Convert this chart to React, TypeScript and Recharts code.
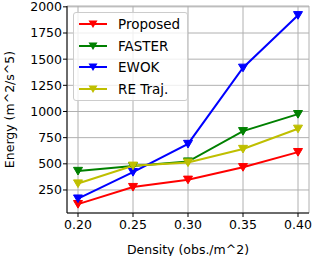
import { LineChart, Line, XAxis, YAxis, CartesianGrid } from "recharts";

const density = [0.2, 0.25, 0.3, 0.35, 0.4];
const proposed = [115, 278, 348, 468, 612];
const faster = [432, 478, 522, 812, 975];
const ewok = [168, 421, 690, 1418, 1920];
const reTraj = [312, 482, 512, 642, 835];

const xTicks = [0.2, 0.25, 0.3, 0.35, 0.4];
const yTicks = [250, 500, 750, 1000, 1250, 1500, 1750, 2000];

const series = [
  { key: "proposed", name: "Proposed", color: "#ff0000" },
  { key: "faster", name: "FASTER", color: "#008000" },
  { key: "ewok", name: "EWOK", color: "#0000ff" },
  { key: "reTraj", name: "RE Traj.", color: "#bfbf00" },
];

const data = density.map((d, i) => ({
  density: d,
  proposed: proposed[i],
  faster: faster[i],
  ewok: ewok[i],
  reTraj: reTraj[i],
}));

const FONT = "DejaVu Sans, sans-serif";

function Tri(props: any) {
  const { cx, cy, stroke } = props;
  if (cx == null || cy == null) return null;
  const s = 4.5;
  return (
    <path
      d={`M${cx - s},${cy - s * 0.8} L${cx + s},${cy - s * 0.8} L${cx},${cy + s * 0.9} Z`}
      fill={stroke}
      stroke={stroke}
      strokeWidth={1}
    />
  );
}

function LegendBox() {
  return (
    <div
      style={{
        position: "absolute",
        left: 73,
        top: 12,
        border: "1px solid #cccccc",
        borderRadius: 3,
        background: "rgba(255,255,255,0.8)",
        width: 113,
        padding: 0,
        fontFamily: FONT,
        fontSize: 13.5,
      }}
    >
      {series.map((s) => (
        <div key={s.key} style={{ display: "flex", alignItems: "center", height: 21.7 }}>
          <svg width={40} height={14} style={{ marginLeft: 4 }}>
            <line x1={1} y1={7} x2={29} y2={7} stroke={s.color} strokeWidth={2} />
            <path d="M10.5,3.4 L19.5,3.4 L15,11.1 Z" fill={s.color} />
          </svg>
          <span style={{ color: "#000" }}>{s.name}</span>
        </div>
      ))}
    </div>
  );
}

export default function App() {
  return (
    <div style={{ position: "relative", width: 316, height: 256, background: "#fff" }}>
      <style>{`body{margin:0}`}</style>
      <LineChart
        width={316}
        height={256}
        data={data}
        margin={{ top: 6, right: 7, bottom: 0, left: 0 }}
      >
        <CartesianGrid stroke="#b0b0b0" strokeWidth={1} />
        <XAxis
          dataKey="density"
          type="number"
          domain={[0.19, 0.41]}
          ticks={xTicks}
          interval={0}
          tickFormatter={(v: number) => v.toFixed(2)}
          height={43}
          tickSize={4}
          tickMargin={3}
          stroke="#000"
          tick={{ fill: "#000", fontSize: 12.5, fontFamily: FONT }}
          label={{
            value: "Density (obs./m^2)",
            position: "insideBottom",
            offset: 2,
            fill: "#000",
            fontSize: 12.5,
            fontFamily: FONT,
          }}
        />
        <XAxis
          xAxisId="top"
          orientation="top"
          dataKey="density"
          type="number"
          domain={[0.19, 0.41]}
          height={0}
          tick={false}
          tickLine={false}
          stroke="#000"
        />
        <YAxis
          type="number"
          domain={[30, 2008]}
          ticks={yTicks}
          interval={0}
          width={67}
          tickSize={4}
          tickMargin={1}
          stroke="#000"
          tick={{ fill: "#000", fontSize: 12.5, fontFamily: FONT }}
          label={{
            value: "Energy (m^2/s^5)",
            angle: -90,
            position: "insideLeft",
            offset: 10,
            style: { textAnchor: "middle" },
            fill: "#000",
            fontSize: 12.5,
            fontFamily: FONT,
          }}
        />
        <YAxis
          yAxisId="right"
          orientation="right"
          domain={[30, 2008]}
          width={0}
          tick={false}
          tickLine={false}
          stroke="#000"
        />
        {series.map((s) => (
          <Line
            key={s.key}
            dataKey={s.key}
            name={s.name}
            stroke={s.color}
            strokeWidth={2}
            dot={<Tri />}
            activeDot={false}
            isAnimationActive={false}
          />
        ))}
      </LineChart>
      <LegendBox />
    </div>
  );
}
